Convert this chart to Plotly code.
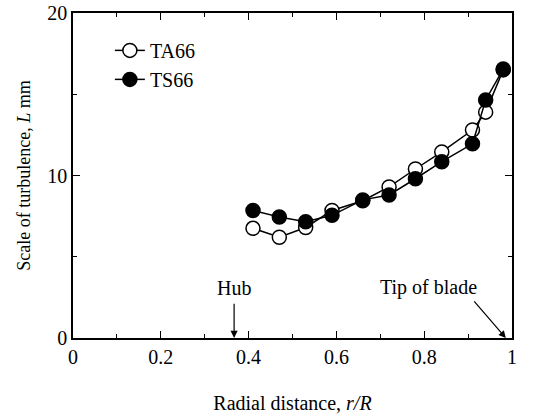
import plotly.graph_objects as go

r_R = [0.41, 0.47, 0.53, 0.59, 0.66, 0.72, 0.78, 0.84, 0.91, 0.94, 0.98]
ta66 = [6.75, 6.2, 6.8, 7.85, 8.45, 9.3, 10.4, 11.45, 12.8, 13.9, 16.5]
ts66 = [7.85, 7.45, 7.15, 7.55, 8.5, 8.8, 9.8, 10.85, 11.95, 14.65, 16.55]

FONT = "Liberation Serif, Times New Roman, serif"
FS = 20

fig = go.Figure()
fig.add_trace(go.Scatter(x=r_R, y=ta66, mode="lines+markers", name="TA66",
                         line=dict(color="black", width=1.5),
                         marker=dict(symbol="circle", size=14, color="white",
                                     line=dict(color="black", width=1.5))))
fig.add_trace(go.Scatter(x=r_R, y=ts66, mode="lines+markers", name="TS66",
                         line=dict(color="black", width=1.5),
                         marker=dict(symbol="circle", size=14, color="black",
                                     line=dict(color="black", width=1.5))))

# Hub annotation
fig.add_annotation(x=0.367, y=0, ax=0.367, ay=2.2, xref="x", yref="y",
                   axref="x", ayref="y", text="", showarrow=True,
                   arrowhead=2, arrowsize=1.2, arrowwidth=1.2, arrowcolor="black")
fig.add_annotation(x=0.367, y=2.3, xref="x", yref="y", text="Hub",
                   showarrow=False, yanchor="bottom",
                   font=dict(family=FONT, size=FS, color="black"))
# Tip of blade annotation
fig.add_annotation(x=0.986, y=0, ax=0.911, ay=2.35, xref="x", yref="y",
                   axref="x", ayref="y", text="", showarrow=True,
                   arrowhead=2, arrowsize=1.2, arrowwidth=1.2, arrowcolor="black")
fig.add_annotation(x=0.809, y=2.3, xref="x", yref="y", text="Tip of blade",
                   showarrow=False, yanchor="bottom",
                   font=dict(family=FONT, size=FS, color="black"))

axis_common = dict(showgrid=False, zeroline=False, showline=True, linecolor="black",
                   linewidth=1.5, mirror="ticks", ticks="inside", ticklen=7,
                   tickwidth=1.2, tickcolor="black", automargin=False,
                   ticklabeloverflow="allow",
                   tickfont=dict(family=FONT, size=FS, color="black"))

fig.update_xaxes(range=[0, 1], tickvals=[0, 0.2, 0.4, 0.6, 0.8, 1],
                 ticktext=["0", "0.2", "0.4", "0.6", "0.8", "1"],
                 minor=dict(dtick=0.1, ticks="inside", ticklen=4, tickcolor="black", tickwidth=1.2),
                 title=dict(text="Radial distance, <i>r/R</i>", standoff=29,
                            font=dict(family=FONT, size=FS, color="black")),
                 **axis_common)
fig.update_yaxes(range=[0, 20], tickvals=[0, 10, 20], ticktext=["0", "10", "20"],
                 minor=dict(dtick=5, ticks="inside", ticklen=4, tickcolor="black", tickwidth=1.2),
                 title=dict(text="Scale of turbulence, <i>L</i> mm", standoff=12,
                            font=dict(family=FONT, size=18, color="black")),
                 **axis_common)

fig.update_layout(width=538, height=416, margin=dict(l=73, r=26, t=13, b=78),
                  plot_bgcolor="white", paper_bgcolor="white",
                  showlegend=True,
                  legend=dict(x=0.084, y=0.945, xanchor="left", yanchor="top",
                              bgcolor="rgba(0,0,0,0)",
                              font=dict(family=FONT, size=20, color="black")))

fig.write_html("out.html", config={"displayModeBar": False},
               post_script="document.body.style.margin='0';")
